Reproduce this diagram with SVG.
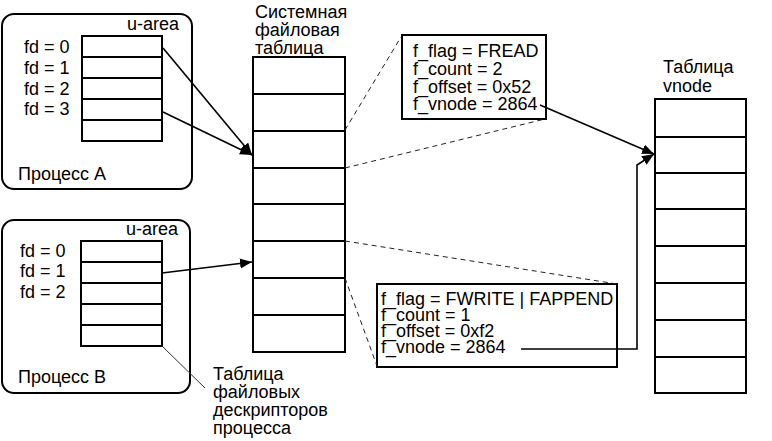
<svg xmlns="http://www.w3.org/2000/svg" width="772" height="441" viewBox="0 0 772 441">
<style>
text{font-family:"Liberation Sans",Arial,sans-serif;font-size:18px;fill:#000}
.box{fill:none;stroke:#000;stroke-width:2}
.cell{fill:#fff;stroke:#000;stroke-width:2}
.row{stroke:#000;stroke-width:2}
.arrow{fill:none;stroke:#000;stroke-width:1.6;marker-end:url(#ah)}
.dash{fill:none;stroke:#222;stroke-width:1;stroke-dasharray:5 4}
.leader{fill:none;stroke:#333;stroke-width:1}
</style>
<defs>
<marker id="ah" markerUnits="userSpaceOnUse" markerWidth="14" markerHeight="12" refX="12" refY="5" orient="auto">
<path d="M0,0 L12,5 L0,10 z" fill="#000"/>
</marker>
</defs>
<rect width="772" height="441" fill="#fff"/>

<g id="processA">
<rect class="box" x="2" y="14" width="190" height="175" rx="12"/>
<text x="179" y="30" text-anchor="end">u-area</text>
<text x="24" y="53">fd = 0</text>
<text x="24" y="74">fd = 1</text>
<text x="24" y="95">fd = 2</text>
<text x="24" y="115">fd = 3</text>
<rect class="cell" x="82" y="36" width="80" height="105"/>
<line class="row" x1="82" y1="57" x2="162" y2="57"/>
<line class="row" x1="82" y1="78" x2="162" y2="78"/>
<line class="row" x1="82" y1="99" x2="162" y2="99"/>
<line class="row" x1="82" y1="120" x2="162" y2="120"/>
<text x="18" y="180">Процесс А</text>
</g>

<g id="processB">
<rect class="box" x="2" y="220" width="188" height="173" rx="12"/>
<text x="178" y="235" text-anchor="end">u-area</text>
<text x="20" y="257">fd = 0</text>
<text x="20" y="277">fd = 1</text>
<text x="20" y="298">fd = 2</text>
<rect class="cell" x="81" y="241" width="81" height="105"/>
<line class="row" x1="81" y1="262" x2="162" y2="262"/>
<line class="row" x1="81" y1="283" x2="162" y2="283"/>
<line class="row" x1="81" y1="304" x2="162" y2="304"/>
<line class="row" x1="81" y1="325" x2="162" y2="325"/>
<text x="18" y="383">Процесс В</text>
</g>

<g id="fdTableLabel">
<text x="213" y="380">Таблица</text>
<text x="213" y="398">файловых</text>
<text x="213" y="416">дескрипторов</text>
<text x="213" y="434">процесса</text>
</g>

<g id="systemFileTable">
<text x="255" y="18">Системная</text>
<text x="255" y="36">файловая</text>
<text x="255" y="54">таблица</text>
<rect class="cell" x="253" y="57" width="92" height="295"/>
<line class="row" x1="253" y1="94" x2="345" y2="94"/>
<line class="row" x1="253" y1="131" x2="345" y2="131"/>
<line class="row" x1="253" y1="168" x2="345" y2="168"/>
<line class="row" x1="253" y1="204" x2="345" y2="204"/>
<line class="row" x1="253" y1="241" x2="345" y2="241"/>
<line class="row" x1="253" y1="278" x2="345" y2="278"/>
<line class="row" x1="253" y1="315" x2="345" y2="315"/>
</g>

<g id="fileEntry1">
<rect class="cell" x="402" y="35" width="144" height="84"/>
<text x="413" y="57">f_flag = FREAD</text>
<text x="413" y="75">f_count = 2</text>
<text x="413" y="93">f_offset = 0x52</text>
<text x="413" y="110">f_vnode = 2864</text>
</g>

<g id="fileEntry2">
<rect class="cell" x="377" y="284" width="240" height="83"/>
<text x="381" y="305">f_flag = FWRITE | FAPPEND</text>
<text x="381" y="321">f_count = 1</text>
<text x="381" y="337">f_offset = 0xf2</text>
<text x="381" y="353">f_vnode = 2864</text>
</g>

<g id="vnodeTable">
<text x="663" y="73">Таблица</text>
<text x="663" y="92">vnode</text>
<rect class="cell" x="655" y="99" width="91" height="294"/>
<line class="row" x1="655" y1="137" x2="746" y2="137"/>
<line class="row" x1="655" y1="173" x2="746" y2="173"/>
<line class="row" x1="655" y1="209" x2="746" y2="209"/>
<line class="row" x1="655" y1="246" x2="746" y2="246"/>
<line class="row" x1="655" y1="283" x2="746" y2="283"/>
<line class="row" x1="655" y1="320" x2="746" y2="320"/>
<line class="row" x1="655" y1="357" x2="746" y2="357"/>
</g>

<g id="connectors">
<path class="arrow" d="M163,48 L252,155"/>
<path class="arrow" d="M163,112 L252,155"/>
<path class="arrow" d="M162,273 L252,262"/>
<path class="arrow" d="M540,105 L654,154"/>
<path class="arrow" d="M521,349 L637,349 L637,165 L654,154"/>
<path class="dash" d="M345,130 L401,37"/>
<path class="dash" d="M345,168 L545,119"/>
<path class="dash" d="M345,241 L617,284"/>
<path class="dash" d="M345,278 L377,366"/>
<path class="leader" d="M163,347 L205,388"/>
</g>
</svg>
